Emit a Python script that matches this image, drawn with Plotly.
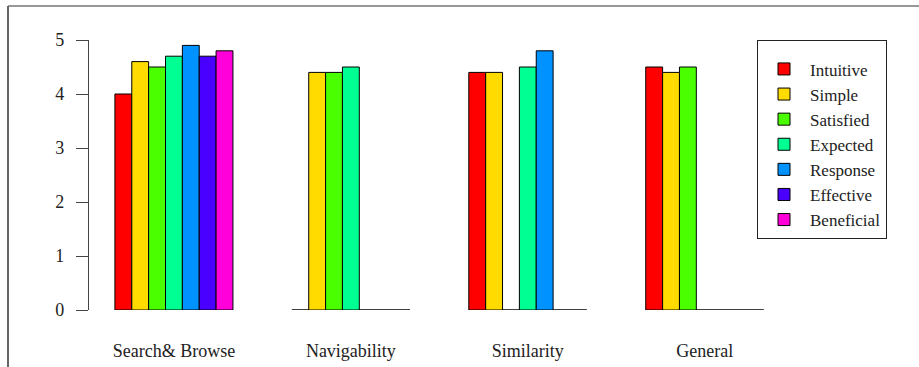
import plotly.graph_objects as go

categories = ["Search& Browse", "Navigability", "Similarity", "General"]
series_names = ["Intuitive", "Simple", "Satisfied", "Expected", "Response", "Effective", "Beneficial"]
intuitive = [4.0, 0, 4.4, 4.5]
simple = [4.6, 4.4, 4.4, 4.4]
satisfied = [4.5, 4.4, 0, 4.5]
expected = [4.7, 4.5, 4.5, 0]
response = [4.9, 0, 4.8, 0]
effective = [4.7, 0, 0, 0]
beneficial = [4.8, 0, 0, 0]
colors = ["#FF0000", "#FFDB00", "#49FF00", "#00FF92", "#0092FF", "#4900FF", "#FF00DB"]
yticks = [0, 1, 2, 3, 4, 5]

series_values = [intuitive, simple, satisfied, expected, response, effective, beneficial]
FONT = "Liberation Serif"

fig = go.Figure()
for name, vals, col in zip(series_names, series_values, colors):
    fig.add_trace(go.Bar(
        name=name, x=categories, y=vals,
        marker=dict(color=col, line=dict(color="black", width=1)),
        legendgroup=name,
    ))

W, H = 919, 367
L, R, T, B = 89, 32, 40, 57
pw = W - L - R
ph = H - T - B

def px2paper_x(px):
    return (px - L) / pw

def px2paper_y(py):
    return (H - B - py) / ph

shapes = [
    dict(type="line", xref="paper", yref="paper",
         x0=px2paper_x(8), x1=px2paper_x(919), y0=px2paper_y(6), y1=px2paper_y(6),
         line=dict(color="#333333", width=1.2)),
    dict(type="line", xref="paper", yref="paper",
         x0=px2paper_x(8), x1=px2paper_x(8), y0=px2paper_y(6), y1=px2paper_y(367),
         line=dict(color="#666666", width=2)),
]

fig.update_layout(
    width=W, height=H,
    margin=dict(l=L, r=R, t=T, b=B, pad=0),
    paper_bgcolor="white", plot_bgcolor="white",
    barmode="group", bargap=0.333, bargroupgap=0,
    font=dict(family=FONT, size=18, color="#222222"),
    shapes=shapes,
    showlegend=True,
    legend=dict(
        x=1, xanchor="right", y=1, yanchor="top",
        bordercolor="#222222", borderwidth=1, bgcolor="white",
        font=dict(family=FONT, size=17, color="#222222"),
        tracegroupgap=0, itemwidth=42,
        title=dict(text=" ", font=dict(family=FONT, size=8, color="#222222")),
    ),
)
fig.update_xaxes(
    range=[-0.48, 4.03], showgrid=False, zeroline=False, showline=False,
    ticks="", ticklabelstandoff=28, tickfont=dict(family=FONT, size=18),
    automargin=False,
)
fig.update_yaxes(
    range=[0, 5], tickvals=yticks, showgrid=False, zeroline=False,
    showline=True, linecolor="#444444", linewidth=1.2,
    ticks="outside", ticklen=12, tickcolor="#444444", tickwidth=1.2,
    ticklabelstandoff=8, tickfont=dict(family=FONT, size=18),
    automargin=False,
)

fig.write_html("out.html", config={"displayModeBar": False},
               post_script="document.body.style.margin='0';")
